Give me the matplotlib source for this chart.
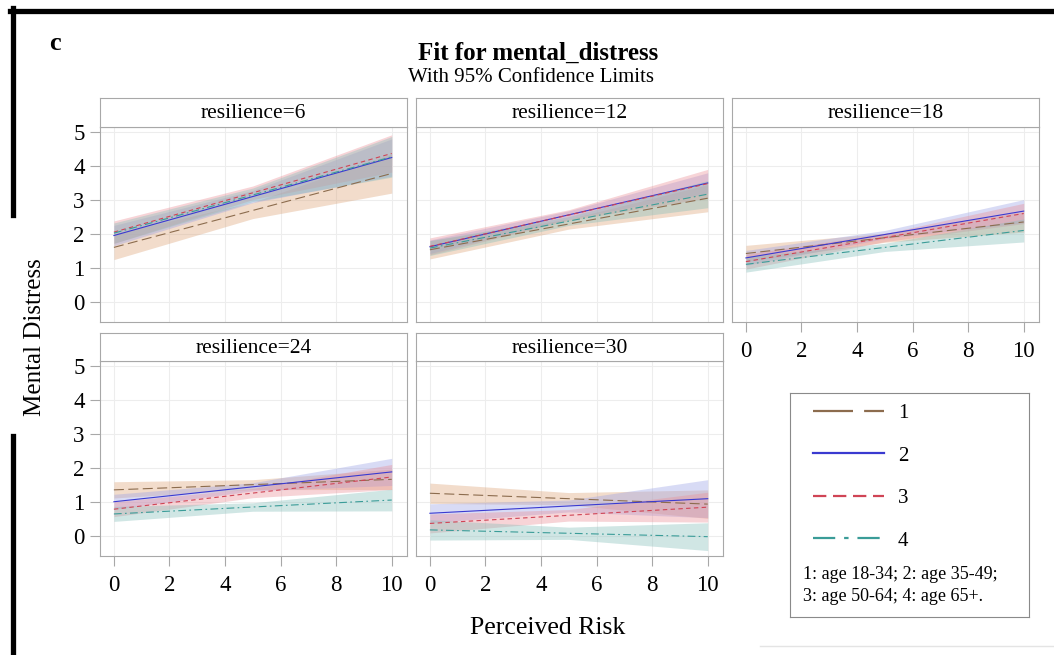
import numpy as np
import matplotlib.pyplot as plt
from matplotlib.lines import Line2D

plt.rcParams['font.family'] = ['Liberation Serif', 'DejaVu Serif']

resilience = [6, 12, 18, 24, 30]
risk_ends = [0, 10]
risk_band = [0, 5, 10]
age_labels = ['1', '2', '3', '4']
age_note = '1: age 18-34; 2: age 35-49;\n3: age 50-64; 4: age 65+.'

# fitted value at risk 0 and 10, one row per age group
fit_r6 = [[1.60, 3.78], [1.95, 4.25], [2.05, 4.37], [2.02, 4.27]]
low_r6 = [[1.24, 2.45, 3.20], [1.65, 2.92, 3.70], [1.72, 3.01, 3.82], [1.72, 2.95, 3.67]]
upp_r6 = [[2.00, 2.93, 4.36], [2.25, 3.28, 4.80], [2.38, 3.41, 4.92], [2.32, 3.35, 4.87]]

fit_r12 = [[1.53, 3.05], [1.62, 3.50], [1.63, 3.48], [1.58, 3.17]]
low_r12 = [[1.26, 2.14, 2.65], [1.42, 2.44, 3.20], [1.38, 2.40, 3.06], [1.36, 2.25, 2.77]]
upp_r12 = [[1.80, 2.44, 3.45], [1.82, 2.68, 3.80], [1.88, 2.71, 3.90], [1.80, 2.51, 3.57]]

fit_r18 = [[1.42, 2.35], [1.29, 2.67], [1.18, 2.60], [1.10, 2.10]]
low_r18 = [[1.18, 1.75, 2.05], [1.07, 1.86, 2.33], [0.96, 1.77, 2.30], [0.87, 1.48, 1.76]]
upp_r18 = [[1.66, 2.02, 2.65], [1.51, 2.10, 3.01], [1.40, 2.01, 2.90], [1.33, 1.72, 2.44]]

fit_r24 = [[1.35, 1.66], [1.00, 1.88], [0.78, 1.73], [0.64, 1.05]]
low_r24 = [[1.11, 1.36, 1.36], [0.78, 1.32, 1.48], [0.56, 1.12, 1.36], [0.42, 0.72, 0.73]]
upp_r24 = [[1.59, 1.65, 1.96], [1.22, 1.56, 2.28], [1.00, 1.39, 2.10], [0.86, 0.97, 1.37]]

fit_r30 = [[1.25, 0.93], [0.66, 1.09], [0.36, 0.84], [0.17, -0.03]]
low_r30 = [[0.95, 0.91, 0.51], [0.38, 0.70, 0.53], [0.08, 0.43, 0.40], [-0.13, -0.11, -0.44]]
upp_r30 = [[1.55, 1.27, 1.35], [0.94, 1.05, 1.65], [0.64, 0.77, 1.28], [0.47, 0.25, 0.38]]

fits = [fit_r6, fit_r12, fit_r18, fit_r24, fit_r30]
lows = [low_r6, low_r12, low_r18, low_r24, low_r30]
upps = [upp_r6, upp_r12, upp_r18, upp_r24, upp_r30]

line_colors = ['#8C6C4E', '#3A3AD0', '#D04455', '#3A9C98']
band_colors = ['#DDA478', '#9AA2E6', '#EA8E96', '#84BEBA']
dashes = [(0, (9, 4)), '-', (0, (4, 3)), (0, (7, 3, 1.5, 3))]
leg_dashes = [(0, (18, 5)), '-', (0, (6, 3)), (0, (10, 4, 2, 4))]
grey = '#A8A8A8'

W, H = 1054, 655
def box(x0, y0, x1, y1):
    return [x0 / W, 1 - y1 / H, (x1 - x0) / W, (y1 - y0) / H]

fig = plt.figure(figsize=(10.54, 6.55), dpi=100)

cols = [(100, 407), (416, 723), (732, 1039)]
rows = [(98, 127, 322), (333, 361, 556)]
cells = [(0, 0), (0, 1), (0, 2), (1, 0), (1, 1)]

for k, (r, c) in enumerate(cells):
    x0, x1 = cols[c]
    s0, p0, p1 = rows[r]
    ax = fig.add_axes(box(x0, p0, x1, p1))
    st = fig.add_axes(box(x0, s0, x1, p0))
    st.set_xticks([]); st.set_yticks([])
    for sp in st.spines.values():
        sp.set_color(grey)
    st.text(0.5, 0.45, 'resilience=%d' % resilience[k], ha='center', va='center',
            fontsize=15.5, transform=st.transAxes)

    for i in range(4):
        ax.fill_between(risk_band, lows[k][i], upps[k][i], color=band_colors[i],
                        alpha=0.38, lw=0)
    for i in range(4):
        ax.plot(risk_ends, fits[k][i], color=line_colors[i], ls=dashes[i], lw=0.8)

    ax.set_xlim(-0.5, 10.55)
    ax.set_ylim(-0.6, 5.15)
    ax.set_xticks(range(0, 11, 2))
    ax.set_yticks(range(0, 6))
    ax.grid(color='#EDEDED', lw=0.8)
    ax.set_axisbelow(True)
    for sp in ax.spines.values():
        sp.set_color(grey)
    ax.tick_params(colors=grey, labelcolor='black', labelsize=16.5)
    if c == 0:
        ax.tick_params(axis='y', length=7, pad=4)
    else:
        ax.tick_params(axis='y', left=False, labelleft=False)
    if k >= 2:
        ax.tick_params(axis='x', length=7, pad=7)
    else:
        ax.tick_params(axis='x', bottom=False, labelbottom=False)

fig.text(538 / W, 1 - 53 / H, 'Fit for mental_distress', ha='center', va='center',
         fontsize=18, fontweight='bold')
fig.text(531 / W, 1 - 77 / H, 'With 95% Confidence Limits', ha='center', va='center',
         fontsize=15)
fig.text(55 / W, 1 - 44 / H, 'c', ha='center', va='center', fontsize=19, fontweight='bold')
fig.text(35 / W, 1 - 337 / H, 'Mental Distress', ha='center', va='center',
         rotation=90, fontsize=18)
fig.text(548 / W, 1 - 628 / H, 'Perceived Risk', ha='center', va='center', fontsize=18.5)

# legend box
lg = fig.add_axes(box(790, 393, 1029, 617))
lg.set_xticks([]); lg.set_yticks([])
for sp in lg.spines.values():
    sp.set_color('#8A8A8A')
leg_handles = [Line2D([], [], color=line_colors[i], ls=leg_dashes[i], lw=1.6)
               for i in range(4)]
lg.legend(leg_handles, age_labels, loc='upper left', bbox_to_anchor=(0.06, 0.99),
          borderaxespad=0, frameon=False, fontsize=15, handlelength=3.4,
          labelspacing=1.1, handletextpad=0.7)
lg.text(0.054, 0.14, age_note, transform=lg.transAxes, ha='left', va='center',
        fontsize=13, linespacing=1.35)

# black frame fragments around the figure
fig.add_artist(Line2D([10 / W, 1], [1 - 10.5 / H] * 2, color='black', lw=3.8))
fig.add_artist(Line2D([12.5 / W] * 2, [1 - 8 / H, 1 - 215 / H], color='black', lw=3.8))
fig.add_artist(Line2D([12.5 / W] * 2, [1 - 436 / H, 0], color='black', lw=3.8))
fig.add_artist(Line2D([760 / W, 1], [1 - 646 / H] * 2, color='#E4E4E4', lw=1))

fig.savefig('out.png', dpi=100)
